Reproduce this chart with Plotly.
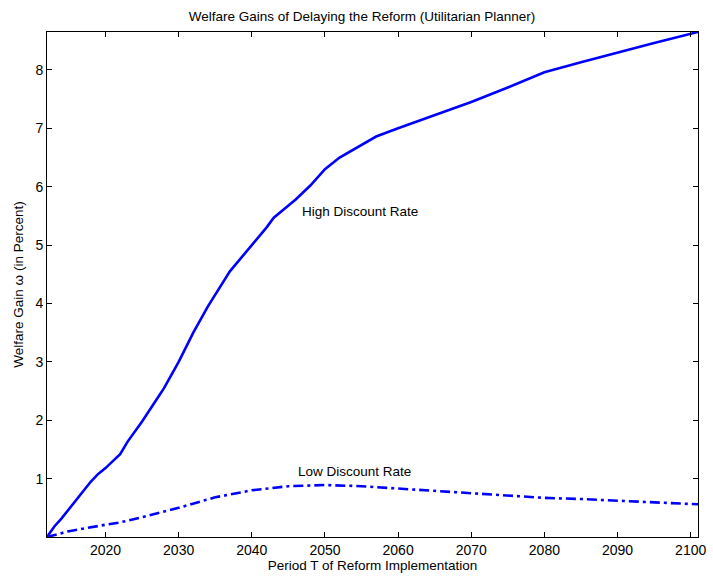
import plotly.graph_objects as go

years_high = [2012, 2013, 2014, 2015, 2016, 2017, 2018, 2019, 2020, 2021, 2022, 2023, 2025, 2027, 2028,
              2030, 2032, 2034, 2036, 2037, 2040, 2042, 2043, 2046, 2048, 2050, 2052, 2055, 2057,
              2060, 2065, 2070, 2075, 2080, 2085, 2090, 2095, 2101]
high_rate = [0.0, 0.18, 0.32, 0.48, 0.64, 0.80, 0.95, 1.08, 1.18, 1.30, 1.42, 1.63, 1.98, 2.36, 2.55,
             3.0, 3.5, 3.95, 4.35, 4.55, 5.0, 5.3, 5.47, 5.78, 6.02, 6.3, 6.5, 6.72, 6.86,
             7.0, 7.22, 7.45, 7.7, 7.96, 8.13, 8.3, 8.46, 8.65]

years_low = [2012, 2015, 2020, 2022, 2025, 2030, 2035, 2040, 2045, 2050, 2055, 2060, 2065, 2070,
             2075, 2080, 2085, 2090, 2095, 2101]
low_rate = [0.0, 0.10, 0.21, 0.25, 0.34, 0.50, 0.68, 0.80, 0.87, 0.89, 0.87, 0.83, 0.79, 0.75,
            0.71, 0.67, 0.65, 0.62, 0.59, 0.56]

x_ticks = [2020, 2030, 2040, 2050, 2060, 2070, 2080, 2090, 2100]
y_ticks = [1, 2, 3, 4, 5, 6, 7, 8]

FONT = "Liberation Sans, Arial, sans-serif"
TXT = 13.5

fig = go.Figure()
fig.add_trace(go.Scatter(x=years_high, y=high_rate, mode="lines",
                         line=dict(color="#0000FF", width=2.6), name="High Discount Rate"))
fig.add_trace(go.Scatter(x=years_low, y=low_rate, mode="lines",
                         line=dict(color="#0000FF", width=2.6, dash="10px,4px,3px,4px"),
                         name="Low Discount Rate"))

fig.add_annotation(x=2054.8, y=5.57, text="High Discount Rate", showarrow=False,
                   font=dict(family=FONT, size=TXT, color="black"))
fig.add_annotation(x=2054.1, y=1.12, text="Low Discount Rate", showarrow=False,
                   font=dict(family=FONT, size=TXT, color="black"))

axis_common = dict(ticks="inside", ticklen=5, tickwidth=1, tickcolor="#000000",
                   showline=True, linecolor="#000000", linewidth=1, mirror="ticks",
                   showgrid=False, zeroline=False, ticklabeloverflow="allow",
                   tickfont=dict(family=FONT, size=14, color="black"))

fig.update_layout(
    width=713, height=577,
    margin=dict(l=47, r=7, t=32, b=40, pad=0),
    paper_bgcolor="white", plot_bgcolor="white",
    showlegend=False,
    font=dict(family=FONT, size=TXT, color="black"),
    title=dict(text="Welfare Gains of Delaying the Reform (Utilitarian Planner)",
               x=362/713, xanchor="center", y=1 - 16/577, yanchor="middle",
               font=dict(family=FONT, size=TXT, color="black")),
    xaxis=dict(range=[2012, 2101], tickvals=x_ticks,
               title=dict(text="Period T of Reform Implementation", standoff=2,
                          font=dict(family=FONT, size=TXT, color="black")),
               **axis_common),
    yaxis=dict(range=[0, 8.65], tickvals=y_ticks,
               title=dict(text="Welfare Gain \u03c9 (in Percent)", standoff=8,
                          font=dict(family=FONT, size=TXT, color="black")),
               **axis_common),
)

fig.write_html("out.html", config={"displayModeBar": False},
               post_script="document.body.style.margin='0';document.body.style.padding='0';")
